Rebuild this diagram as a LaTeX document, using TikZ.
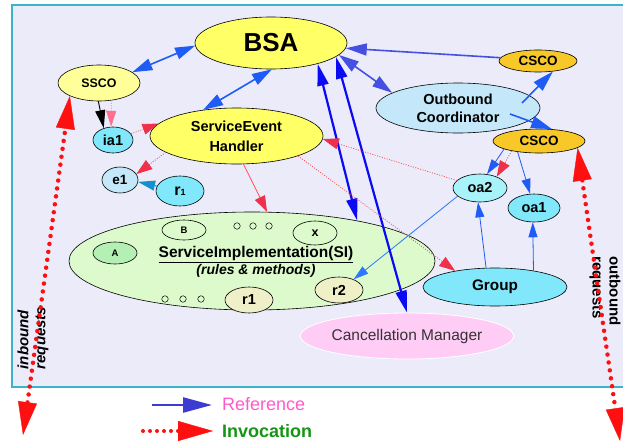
\documentclass[tikz,border=0pt]{standalone}
\usepackage{fontspec}
\setmainfont{Liberation Sans}
\usetikzlibrary{shapes.geometric,arrows.meta,calc}

\definecolor{bgfill}{HTML}{EBEBFA}
\definecolor{bgline}{HTML}{3CB4C8}
\definecolor{yel}{HTML}{FFFF66}
\definecolor{paleyel}{HTML}{FFFF99}
\definecolor{cyanA}{HTML}{80E8FA}
\definecolor{cyanB}{HTML}{A8F2FA}
\definecolor{skyA}{HTML}{C4E8FA}
\definecolor{siGreen}{HTML}{DDFACC}
\definecolor{aGreen}{HTML}{B4F0B4}
\definecolor{cream}{HTML}{F0F0C8}
\definecolor{pinkCM}{HTML}{FFCCF6}
\definecolor{gold}{HTML}{F8C828}
\definecolor{refblue}{HTML}{1E5CF5}
\definecolor{indigo}{HTML}{4650E0}
\definecolor{pureblue}{HTML}{0A0AF5}
\definecolor{thinblue}{HTML}{2A78FF}
\definecolor{tealblue}{HTML}{1490D0}
\definecolor{invred}{HTML}{FF5058}
\definecolor{headred}{HTML}{F0304A}
\definecolor{bigred}{HTML}{FF1010}
\definecolor{legblue}{HTML}{3C3CD2}
\definecolor{legpink}{HTML}{FF5ACD}
\definecolor{leggreen}{HTML}{149614}
\definecolor{pinkdot}{HTML}{FF7090}
\definecolor{cmtext}{HTML}{333333}

\begin{document}
\begin{tikzpicture}[x=1pt,y=-1pt,
  nd/.style={ellipse, draw=black, line width=0.6pt, inner sep=0pt,
    align=center, font=\bfseries\fontsize{14.5}{18}\selectfont},
  dot/.style={circle, draw=black, line width=0.5pt, inner sep=0pt, minimum size=6.5pt},
  refone/.style={draw=refblue, line width=1.6pt, -{Triangle[length=21pt,width=12pt]}},
  refboth/.style={draw=refblue, line width=1.6pt,
    {Triangle[length=20pt,width=12pt]}-{Triangle[length=20pt,width=12pt]}},
  thinarr/.style={draw=refblue, line width=0.8pt, -{Triangle[length=15pt,width=9pt]}},
  cmarr/.style={draw=pureblue, line width=2.2pt,
    {Triangle[length=22pt,width=11pt]}-{Triangle[length=22pt,width=11pt]}},
  inv/.style={draw=invred, line width=0.8pt, dash pattern=on 1pt off 1.5pt,
    -{Triangle[length=16pt,width=11pt,color=headred]}},
  invsolid/.style={draw=invred, line width=0.8pt,
    -{Triangle[length=16pt,width=11pt,color=headred]}},
  bigdot/.style={draw=bigred, line width=4.5pt, line cap=round, dash pattern=on 0pt off 8pt,
    {Triangle[length=33pt,width=19pt,line width=0.4pt]}-{Triangle[length=33pt,width=19pt,line width=0.4pt]}}
]
\useasboundingbox (0,0) rectangle (623,444);
\fill[white] (0,0) rectangle (623,444);
\draw[bgline, fill=bgfill, line width=1.2pt] (12,5) rectangle (640,387);

% ---- nodes ----
\node[nd, fill=yel, minimum width=152pt, minimum height=52pt,
  font=\bfseries\fontsize{26}{30}\selectfont] (bsa) at (271,43) {BSA};
\node[nd, fill=paleyel, minimum width=82pt, minimum height=36pt,
  font=\bfseries\fontsize{12.4}{14}\selectfont] (ssco) at (99,83) {SSCO};
\node[nd, fill=cyanA, minimum width=40pt, minimum height=26pt] (ia1) at (113,140) {ia1};
\node[nd, fill=yel, minimum width=173pt, minimum height=56pt,
  font=\bfseries\fontsize{14.5}{20}\selectfont] (seh) at (236.5,136) {ServiceEvent\\Handler};
\node[nd, fill=skyA, minimum width=36pt, minimum height=26pt,
  font=\bfseries\fontsize{13.5}{16}\selectfont] (e1) at (120,180) {e1};
\node[nd, fill=cyanA, minimum width=48pt, minimum height=30pt] (r1a) at (180,191)
  {\fontsize{16}{16}\selectfont r\fontsize{9}{9}\selectfont 1};

% service implementation
\node[nd, fill=siGreen, minimum width=366pt, minimum height=98pt] (si) at (252,261) {};
\node[nd, fill=aGreen, minimum width=44pt, minimum height=22pt,
  font=\bfseries\fontsize{9.5}{11}\selectfont] (na) at (115,253) {A};
\node[nd, fill=siGreen, minimum width=44pt, minimum height=20pt,
  font=\bfseries\fontsize{9.5}{11}\selectfont] (nb) at (184,230) {B};
\node[nd, fill=siGreen, minimum width=44pt, minimum height=24pt,
  font=\bfseries\fontsize{12.5}{14}\selectfont] (nx) at (315,233) {x};
\node[dot] (d1) at (237,226) {};
\node[dot] (d2) at (253,226) {};
\node[dot] (d3) at (269,226) {};
\node[dot] (d4) at (165,299) {};
\node[dot] (d5) at (183,299) {};
\node[dot] (d6) at (201,299) {};
\node[nd, fill=cream, minimum width=48pt, minimum height=26pt] (r1b) at (249,300) {r1};
\node[nd, fill=cream, minimum width=48pt, minimum height=26pt] (r2) at (339,290) {r2};
\node[align=center, inner sep=0pt] (silab) at (256,262)
  {\fontsize{15.5}{20}\selectfont\bfseries\underline{ServiceImplementation(SI)}\\
   \fontsize{14}{20}\selectfont\bfseries\itshape (rules \& methods)};

\node[ellipse, draw=white, line width=0.8pt, fill=pinkCM, inner sep=0pt,
  minimum width=210pt, minimum height=46pt, text=cmtext,
  font=\fontsize{15.5}{18}\selectfont] (cm) at (407,336) {Cancellation Manager};
\node[nd, fill=cyanA, minimum width=144pt, minimum height=38pt,
  font=\bfseries\fontsize{15.3}{18}\selectfont] (grp) at (495,287) {Group};
\node[nd, fill=cyanA, minimum width=52pt, minimum height=28pt] (oa1) at (534,208) {oa1};
\node[nd, fill=cyanB, minimum width=54pt, minimum height=28pt] (oa2) at (480,188) {oa2};
\node[nd, fill=gold, minimum width=92pt, minimum height=24pt,
  font=\bfseries\fontsize{13.5}{16}\selectfont] (csco2) at (539,141) {CSCO};
\node[nd, fill=gold, minimum width=78pt, minimum height=22pt,
  font=\bfseries\fontsize{13.5}{16}\selectfont] (csco1) at (538,61) {CSCO};
\node[nd, fill=skyA, minimum width=164pt, minimum height=50pt] (oc) at (458,108)
  {Outbound\\Coordinator};

% side labels
\node[rotate=90, align=left, inner sep=0pt,
  font=\bfseries\itshape\fontsize{15}{17}\selectfont] (inlab) at (33,338) {inbound\\requests};
\node[rotate=-90, align=left, inner sep=0pt,
  font=\bfseries\fontsize{15}{17}\selectfont] (outlab) at (605,291) {outbound\\requests};

% ---- reference connectors ----
\coordinate (ocA) at ($(oc.center)+(64,-5)$);
\coordinate (ocB) at ($(oc.center)+(52,6)$);
\draw[refboth] (ssco.18) -- (bsa.182);
\draw[refboth] (bsa.272) -- (seh.142);
\draw[refone, draw=indigo] (csco1.175) -- (bsa.356);
\draw[refboth, draw=indigo] (bsa.350) -- (oc.167);
\draw[refone] (ocA) -- (csco1.325);
\draw[refone] (ocB) -- (csco2.42);
\draw[thinarr] (csco2.193) -- (oa2.63);
\draw[thinarr] (csco2.207) -- (oa1.105);
\draw[thinarr] (grp.115) -- (oa2.262);
\draw[thinarr] (grp.23) -- (oa1.265);
\draw[thinarr, draw=thinblue] (oa2.200) -- (r2.36);
\draw[draw=tealblue, line width=1pt, -{Triangle[length=17pt,width=10pt]}] (r1a.168) -- (e1.354);
\draw[cmarr] (bsa.348) -- (cm.90);
\draw[cmarr] (bsa.336) -- (si.21);

% ---- invocation connectors ----
\draw[black, line width=0.9pt, -{Triangle[length=18pt,width=10pt]}] (ssco.268) -- (ia1.128);
\draw[draw=pinkdot, line width=0.8pt, dash pattern=on 1pt off 1.5pt,
  -{Triangle[length=16pt,width=10pt]}] (ssco.305) -- (ia1.98);
\draw[inv] (ia1.19) -- (seh.171);
\draw[inv] (seh.193) -- (e1.20);
\draw[invsolid] (seh.284) -- (si.73);
\draw[inv] (seh.342) -- (grp.158);
\draw[inv] (oa2.162) -- (seh.358);
\draw[inv] (csco2.200) -- (oa2.34);

% ---- inbound / outbound requests ----
\coordinate (inEnd) at (23,435);
\coordinate (outEnd) at (620,441);
\draw[bigdot] (inEnd) -- (ssco.204);
\draw[bigdot] (csco2.350) -- (outEnd);

% ---- legend ----
\coordinate (refS) at (152,405);
\coordinate (refE) at (212,405);
\draw[draw=legblue, line width=2.5pt, -{Triangle[length=29pt,width=15pt]}] (refS) -- (refE);
\coordinate (invS) at (143,431);
\coordinate (invE) at (213,431);
\draw[draw=bigred, line width=4pt, line cap=round, dash pattern=on 0pt off 7pt,
  -{Triangle[length=35pt,width=20pt,line width=0.4pt]}] (invS) -- (invE);
\node[anchor=west, inner sep=0pt, text=legpink, font=\fontsize{18}{20}\selectfont] (legref) at (222,404) {Reference};
\node[anchor=west, inner sep=0pt, text=leggreen, font=\bfseries\fontsize{18}{20}\selectfont] (leginv) at (222,431) {Invocation};
\end{tikzpicture}
\end{document}
